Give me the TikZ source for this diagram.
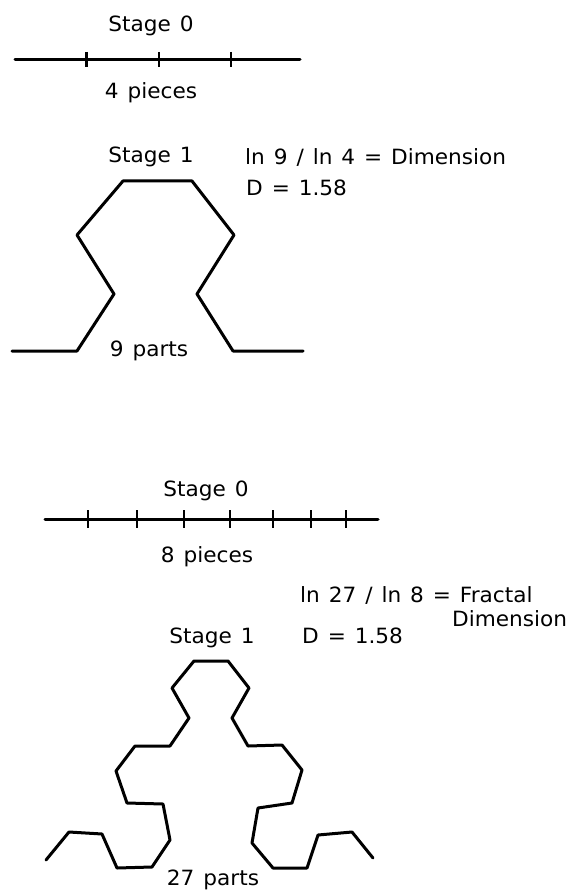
\documentclass[tikz,border=0pt]{standalone}
\usepackage{fontspec}
\setmainfont{DejaVu Sans}[FakeStretch=1.03, WordSpace=1.3]
\begin{document}
\begin{tikzpicture}[x=1pt, y=-1pt, every node/.style={font=\fontsize{21}{25}\selectfont, inner sep=0pt, anchor=base},
  curve/.style={line width=3pt, line join=round, line cap=round}, tick/.style={line width=1.7pt}]
  \useasboundingbox (0,0) rectangle (574,890);
  \node (stageA0) at (151,32) {Stage 0};
  \draw[curve] (15,60) -- (300,60);
  \foreach \x/\w in {86/3,159/1.7,231/1.7} \draw[tick, line width=\w pt] (\x,52) -- (\x,67);
  \node (piecesA) at (151,99) {4 pieces};
  \node (stageA1) at (151,163) {Stage 1};
  \node[anchor=base west] (dimA) at (245,165) {ln 9 / ln 4 = Dimension};
  \node[anchor=base west] (valA) at (246,196) {D = 1.58};
  \draw[curve] (12,351) -- (77,351) -- (114,294) -- (77,235) -- (123,181) -- (192,181)
    -- (234,235) -- (197,294) -- (233,351) -- (303,351);
  \node (partsA) at (149,356) {9 parts};
  \node (stageB0) at (206,496) {Stage 0};
  \draw[curve] (45,519) -- (378,519);
  \foreach \x in {88,137,184,230,273,311,346} \draw[tick] (\x,510) -- (\x,528);
  \node (piecesB) at (207,562) {8 pieces};
  \node[anchor=base west] (dimB) at (300,602) {ln 27 / ln 8 = Fractal};
  \node[anchor=base west] (dimC) at (452,626) {Dimension};
  \node (stageB1) at (212,643) {Stage 1};
  \node[anchor=base west] (valB) at (302,643) {D = 1.58};
  \draw[curve] (46,860) -- (69,832) -- (102,834) -- (117,868) -- (152,867) -- (170,840)
    -- (163,804) -- (127,803) -- (116,771) -- (135,746) -- (170,746) -- (189,718)
    -- (172,688) -- (194,661) -- (228,661) -- (249,688) -- (232,718) -- (248,746)
    -- (282,745) -- (302,770) -- (292,803) -- (258,808) -- (252,843) -- (273,868)
    -- (307,868) -- (318,835) -- (352,832) -- (373,858);
  \node (partsB) at (213,885) {27 parts};
\end{tikzpicture}
\end{document}
